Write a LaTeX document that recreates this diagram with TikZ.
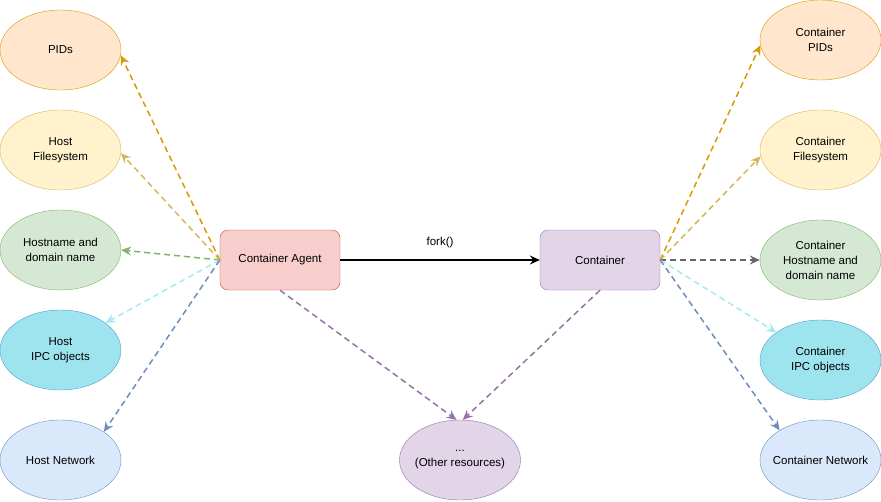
\documentclass[tikz,border=0pt]{standalone}
\usepackage{fontspec}
\setmainfont{Liberation Sans}
\usepackage{tikz}
\usetikzlibrary{shapes.geometric}
\usetikzlibrary{arrows.meta}
\definecolor{orangeS}{HTML}{D79B00}
\definecolor{orangeF}{HTML}{FFE6CC}
\definecolor{yellowS}{HTML}{D6B656}
\definecolor{yellowF}{HTML}{FFF2CC}
\definecolor{greenS}{HTML}{82B366}
\definecolor{greenF}{HTML}{D5E8D4}
\definecolor{cyanS}{HTML}{4A9FD8}
\definecolor{cyanF}{HTML}{9DE4EE}
\definecolor{cyanL}{HTML}{A3EBF3}
\definecolor{blueS}{HTML}{6C8EBF}
\definecolor{blueF}{HTML}{DAE8FC}
\definecolor{redS}{HTML}{B85450}
\definecolor{redF}{HTML}{F8CECC}
\definecolor{purpleS}{HTML}{9673A6}
\definecolor{purpleF}{HTML}{E1D5E7}
\definecolor{grayS}{HTML}{666666}

\begin{document}
\begin{tikzpicture}[x=1pt, y=-1pt, font=\fontsize{11.5}{15}\selectfont,
res/.style={ellipse, draw, minimum width=121pt, minimum height=80pt, inner xsep=-20pt, inner ysep=0pt, align=center},
proc/.style={rectangle, draw, rounded corners=8pt, minimum width=120pt, minimum height=60pt},
link/.style={line width=1.5pt, dash pattern=on 6pt off 4pt, -{Stealth[length=10pt,width=9pt,inset=3.5pt]}}]
\useasboundingbox (0,0) rectangle (881,501);
% host side
\node[res, draw=orangeS, fill=orangeF] (pids) at (60.5,50) {PIDs};
\node[res, draw=yellowS, fill=yellowF] (hostfs) at (60.5,150) {Host\\Filesystem};
\node[res, draw=greenS, fill=greenF] (hostname) at (60.5,250) {Hostname and\\domain name};
\node[res, draw=cyanS, fill=cyanF] (hostipc) at (60.5,350) {Host\\IPC objects};
\node[res, draw=blueS, fill=blueF] (hostnet) at (60.5,460) {Host Network};
% container side
\node[res, draw=orangeS, fill=orangeF] (cpids) at (820.5,40) {Container\\PIDs};
\node[res, draw=yellowS, fill=yellowF] (cfs) at (820.5,150) {Container\\Filesystem};
\node[res, draw=greenS, fill=greenF] (chostname) at (820.5,260) {Container\\Hostname and\\domain name};
\node[res, draw=cyanS, fill=cyanF] (cipc) at (820.5,360) {Container\\IPC objects};
\node[res, draw=blueS, fill=blueF] (cnet) at (820.5,460) {Container Network};
% processes
\node[proc, draw=redS, fill=redF] (agent) at (280,260) {Container Agent};
\node[proc, draw=purpleS, fill=purpleF] (container) at (600,260) {Container};
\node[res, draw=purpleS, fill=purpleF] (other) at (460,460) {...\\(Other resources)};

\draw[line width=1.5pt, -{Stealth[length=10pt,width=9pt,inset=3.5pt]}] (agent) -- node[above=8pt] {fork()} (container);

\draw[link, orangeS] (agent.west) -- (pids.-5);
\draw[link, yellowS] (agent.west) -- (hostfs.-3);
\draw[link, greenS] (agent.west) -- (hostname.east);
\draw[link, cyanL] (agent.west) -- (hostipc.31);
\draw[link, blueS] (agent.west) -- (hostnet.33);

\draw[link, orangeS] (container.east) -- (cpids.185);
\draw[link, yellowS] (container.east) -- (cfs.186);
\draw[link, grayS] (container.east) -- (chostname.west);
\draw[link, cyanL] (container.east) -- (cipc.148);
\draw[link, blueS] (container.east) -- (cnet.144);

\draw[link, purpleS] (agent.south) -- (other.95);
\draw[link, purpleS] (container.south) -- (other.86);
\end{tikzpicture}
\end{document}
